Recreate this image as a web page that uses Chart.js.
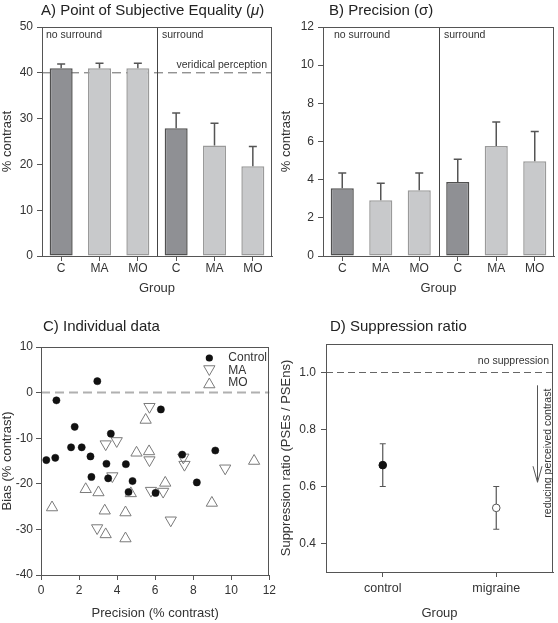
<!DOCTYPE html>
<html>
<head>
<meta charset="utf-8">
<script src="https://cdn.jsdelivr.net/npm/chart.js@4/dist/chart.umd.min.js"></script>
<style>
  body { margin: 0; background: #fff; }
  #wrap { position: relative; width: 558px; height: 623px; }
  canvas { position: absolute; }
</style>
</head>
<body>
<div id="wrap">
  <canvas id="panelA" style="left:0;top:0" width="279" height="300"></canvas>
  <canvas id="panelB" style="left:279px;top:0" width="279" height="300"></canvas>
  <canvas id="panelC" style="left:0;top:300px" width="279" height="323"></canvas>
  <canvas id="panelD" style="left:279px;top:300px" width="279" height="323"></canvas>
</div>
<script>
// group labels for the bar panels (no surround, then surround)
var groups = ['C', 'MA', 'MO', 'C', 'MA', 'MO'];

// A) point of subjective equality, mean and SE (% contrast)
var pseMean = [41.0, 41.0, 41.0, 27.9, 24.1, 19.6];
var pseErr = [0.9, 1.1, 1.1, 3.3, 4.9, 4.3];
var veridical = 40;

// B) precision, mean and SE (% contrast)
var sigmaMean = [3.55, 2.92, 3.44, 3.88, 5.77, 4.96];
var sigmaErr = [0.80, 0.89, 0.91, 1.19, 1.25, 1.56];

// C) individual data: precision (x) vs bias (y)
var controlX = [0.28, 0.75, 0.81, 2.96, 1.77, 1.58, 2.14, 2.60, 2.65, 3.67, 3.44, 3.53, 4.46, 4.60, 4.81, 6.02, 6.30, 7.42, 8.19, 9.16];
var controlY = [-14.8, -14.3, -1.7, 2.5, -7.5, -12.0, -12.0, -14.0, -18.5, -9.0, -15.6, -18.8, -15.7, -21.8, -19.4, -22.0, -3.7, -13.6, -19.7, -12.7];
var maX = [5.70, 3.40, 3.98, 5.70, 7.48, 7.54, 9.68, 3.75, 5.78, 6.42, 6.82, 2.95];
var maY = [-3.1, -11.3, -10.6, -14.8, -14.2, -15.8, -16.6, -18.3, -21.5, -21.7, -28.0, -29.7];
var moX = [5.50, 5.68, 5.02, 11.2, 2.35, 3.02, 4.72, 6.53, 0.58, 8.98, 3.35, 4.44, 3.40, 4.44];
var moY = [-6.0, -12.9, -13.2, -15.0, -21.2, -21.9, -22.1, -19.8, -25.2, -24.2, -25.9, -26.3, -31.1, -32.0];

// D) suppression ratio (PSEs / PSEns)
var ratioGroups = ['control', 'migraine'];
var ratioMean = [0.675, 0.525];
var ratioLow = [0.60, 0.45];
var ratioHigh = [0.75, 0.60];

var FONT = "'Liberation Sans', Arial, sans-serif";
var INK = '#333';
var AXIS = '#555';
Chart.defaults.font.family = FONT;
Chart.defaults.color = INK;
Chart.defaults.animation = false;

function pairs(xs, ys) {
    return xs.map(function(x, i) { return { x: x, y: ys[i] }; });
}

// full box round the plot area
function drawFrame(chart) {
    var a = chart.chartArea, c = chart.ctx;
    c.save();
    c.strokeStyle = AXIS;
    c.lineWidth = 1;
    c.strokeRect(Math.round(a.left) + 0.5, Math.round(a.top) + 0.5,
                 Math.round(a.right - a.left) - 1, Math.round(a.bottom - a.top));
    c.restore();
}

// panel heading, parts may be italic
function drawHeading(c, x, y, parts) {
    c.save();
    c.fillStyle = '#222';
    c.textBaseline = 'middle';
    c.textAlign = 'left';
    parts.forEach(function(p) {
        c.font = (p.italic ? 'italic ' : '') + '15px ' + FONT;
        c.fillText(p.text, x, y);
        x += c.measureText(p.text).width;
    });
    c.restore();
}

function note(c, text, x, y, align) {
    c.save();
    c.font = '10.5px ' + FONT;
    c.fillStyle = INK;
    c.textAlign = align || 'left';
    c.textBaseline = 'middle';
    c.fillText(text, x, y);
    c.restore();
}

function dashedH(c, area, y, color, width, dash) {
    c.save();
    c.strokeStyle = color;
    c.lineWidth = width;
    c.setLineDash(dash);
    c.beginPath();
    c.moveTo(area.left, y);
    c.lineTo(area.right, y);
    c.stroke();
    c.restore();
}

function xAxis(opts) {
    return Object.assign({
        grid: { display: true, drawOnChartArea: false, tickLength: 5, color: AXIS },
        border: { color: AXIS },
        ticks: { font: { size: 12 }, padding: opts.pad, color: INK, maxRotation: 0 },
        title: { display: true, text: opts.title, font: { size: 13 }, color: INK, padding: { top: 0, bottom: opts.titlePad } },
        afterFit: function(s) { s.height = opts.height; }
    }, opts.extra || {});
}

function yAxis(opts) {
    return Object.assign({
        min: opts.min, max: opts.max,
        grid: { display: true, drawOnChartArea: false, tickLength: 5, color: AXIS },
        border: { color: AXIS },
        ticks: { stepSize: opts.step, font: { size: 12 }, padding: opts.pad, color: INK },
        title: { display: true, text: opts.title, font: { size: 13 }, color: INK, padding: { top: 0, bottom: 0 } },
        afterFit: function(s) { s.width = opts.width; }
    }, opts.extra || {});
}

/**
 * Bar panel with upward error bars, a divider between
 * the "no surround" and "surround" halves.
 */
function barPanel(id, cfg) {
    var fills = groups.map(function(g) { return g === 'C' ? '#8f9094' : '#c8c9cb'; });
    var edges = groups.map(function(g) { return g === 'C' ? '#505050' : '#9a9a9a'; });

    var decor = {
        id: 'decor',
        beforeDatasetsDraw: function(chart) {
            if (cfg.refLine !== undefined) {
                var y = chart.scales.y.getPixelForValue(cfg.refLine);
                dashedH(chart.ctx, chart.chartArea, y, '#666', 1, [9, 5]);
                note(chart.ctx, cfg.refText, chart.chartArea.right - 5, y - 8, 'right');
            }
        },
        afterDatasetsDraw: function(chart) {
            var c = chart.ctx, a = chart.chartArea, ys = chart.scales.y;
            var bars = chart.getDatasetMeta(0).data;
            c.save();
            c.strokeStyle = '#555';
            c.lineWidth = 1.5;
            bars.forEach(function(bar, i) {
                var top = ys.getPixelForValue(cfg.mean[i] + cfg.err[i]);
                c.beginPath();
                c.moveTo(bar.x, bar.y);
                c.lineTo(bar.x, top);
                c.moveTo(bar.x - 4, top);
                c.lineTo(bar.x + 4, top);
                c.stroke();
            });
            c.restore();

            // divider between the two conditions
            var mid = Math.round((bars[2].x + bars[3].x) / 2) + 0.5;
            c.save();
            c.strokeStyle = '#444';
            c.lineWidth = 1;
            c.beginPath();
            c.moveTo(mid, a.top);
            c.lineTo(mid, a.bottom);
            c.stroke();
            c.restore();

            note(c, 'no surround', a.left + cfg.noteLeft, a.top + 8.5);
            note(c, 'surround', mid + 4.5, a.top + 8.5);
        },
        afterDraw: function(chart) {
            drawFrame(chart);
            drawHeading(chart.ctx, cfg.headX, 11, cfg.heading);
        }
    };

    return new Chart(document.getElementById(id), {
        type: 'bar',
        data: {
            labels: groups,
            datasets: [{
                data: cfg.mean,
                backgroundColor: fills,
                borderColor: edges,
                borderWidth: 1.5,
                borderSkipped: false,
                barPercentage: 0.6,
                categoryPercentage: 1
            }]
        },
        options: {
            responsive: false,
            devicePixelRatio: 1,
            layout: { padding: { left: 0, right: cfg.padRight, top: 27, bottom: 0 } },
            plugins: { legend: { display: false }, tooltip: { enabled: false } },
            scales: {
                x: xAxis({ title: 'Group', height: 44, pad: 0, titlePad: 4,
                           extra: { grid: { display: true, offset: false, drawOnChartArea: false, tickLength: 5, color: AXIS } } }),
                y: yAxis({ title: '% contrast', width: cfg.left, min: 0, max: cfg.max, step: cfg.step, pad: 4 })
            }
        },
        plugins: [decor]
    });
}

barPanel('panelA', {
    mean: pseMean, err: pseErr, max: 50, step: 10, left: 42, padRight: 7,
    refLine: veridical, refText: 'veridical perception', noteLeft: 4,
    headX: 41, heading: [{ text: 'A) Point of Subjective Equality (' }, { text: 'μ', italic: true }, { text: ')' }]
});

barPanel('panelB', {
    mean: sigmaMean, err: sigmaErr, max: 12, step: 2, left: 44, padRight: 4,
    noteLeft: 11,
    headX: 50, heading: [{ text: 'B) Precision (σ)' }]
});

// C) scatter of the individual data
function marker(c, style, x, y, r, rot) {
    c.beginPath();
    if (style === 'circle') {
        c.arc(x, y, r, 0, Math.PI * 2);
        c.fill();
        return;
    }
    var s = rot ? -1 : 1;
    c.moveTo(x, y - s * r);
    c.lineTo(x + r * 0.866, y + s * r / 2);
    c.lineTo(x - r * 0.866, y + s * r / 2);
    c.closePath();
    c.stroke();
}

var scatterDatasets = [
    { label: 'Control', data: pairs(controlX, controlY), pointStyle: 'circle', pointRadius: 3.6,
      backgroundColor: '#111', borderColor: '#111', borderWidth: 0.5 },
    { label: 'MA', data: pairs(maX, maY), pointStyle: 'triangle', pointRotation: 180, pointRadius: 6.5,
      backgroundColor: 'rgba(255,255,255,0)', borderColor: '#7a7a7a', borderWidth: 1 },
    { label: 'MO', data: pairs(moX, moY), pointStyle: 'triangle', pointRadius: 6.5,
      backgroundColor: 'rgba(255,255,255,0)', borderColor: '#7a7a7a', borderWidth: 1 }
];

new Chart(document.getElementById('panelC'), {
    type: 'scatter',
    data: { datasets: scatterDatasets },
    options: {
        responsive: false,
        devicePixelRatio: 1,
        layout: { padding: { left: 0, right: 9, top: 47, bottom: 0 } },
        plugins: { legend: { display: false }, tooltip: { enabled: false } },
        scales: {
            x: xAxis({ title: 'Precision (% contrast)', height: 48, pad: 3, titlePad: 2,
                       extra: { type: 'linear', min: 0, max: 12, ticks: { stepSize: 2, font: { size: 12 }, padding: 3, color: INK } } }),
            y: yAxis({ title: 'Bias (% contrast)', width: 41, min: -40, max: 10, step: 10, pad: 3 })
        }
    },
    plugins: [{
        id: 'decorC',
        beforeDatasetsDraw: function(chart) {
            var y = chart.scales.y.getPixelForValue(0);
            dashedH(chart.ctx, chart.chartArea, y, '#b0b0b0', 2, [9, 5]);
        },
        afterDraw: function(chart) {
            var c = chart.ctx, a = chart.chartArea;
            drawFrame(chart);
            drawHeading(c, 43, 27, [{ text: 'C) Individual data' }]);
            // legend inside the plot, top right
            var rows = [11, 23.5, 36];
            scatterDatasets.forEach(function(d, i) {
                var y = a.top + rows[i];
                c.save();
                c.fillStyle = d.backgroundColor;
                c.strokeStyle = d.borderColor;
                c.lineWidth = 1;
                marker(c, d.pointStyle, a.right - 60, y + (d.pointStyle === 'circle' ? 0 : (d.pointRotation ? -1.5 : 1.5)),
                       d.pointStyle === 'circle' ? 3.6 : 6.5, d.pointRotation);
                c.restore();
                c.save();
                c.font = '12px ' + FONT;
                c.fillStyle = INK;
                c.textBaseline = 'middle';
                c.fillText(d.label, a.right - 41, y);
                c.restore();
            });
        }
    }]
});

// D) suppression ratio
new Chart(document.getElementById('panelD'), {
    type: 'scatter',
    data: {
        datasets: [{
            data: ratioMean.map(function(v, i) { return { x: i + 0.5, y: v }; }),
            pointRadius: 3.8,
            pointBackgroundColor: ['#111', '#fff'],
            pointBorderColor: ['#111', '#555'],
            pointBorderWidth: 1
        }]
    },
    options: {
        responsive: false,
        devicePixelRatio: 1,
        layout: { padding: { left: 0, right: 4, top: 44, bottom: 0 } },
        plugins: { legend: { display: false }, tooltip: { enabled: false } },
        scales: {
            x: xAxis({ title: 'Group', height: 51, pad: 4, titlePad: 2,
                       extra: {
                           type: 'linear', min: 0, max: 2,
                           afterBuildTicks: function(s) { s.ticks = ratioGroups.map(function(g, i) { return { value: i + 0.5 }; }); },
                           ticks: { font: { size: 12.5 }, padding: 4, color: INK,
                                    callback: function(v, i) { return ratioGroups[i]; } }
                       } }),
            y: yAxis({ title: 'Suppression ratio (PSEs / PSEns)', width: 47, min: 0.3, max: 1.1, pad: 5,
                       extra: {
                           afterBuildTicks: function(s) { s.ticks = [0.4, 0.6, 0.8, 1.0].map(function(v) { return { value: v }; }); },
                           ticks: { font: { size: 12 }, padding: 5, color: INK,
                                    callback: function(v) { return v.toFixed(1); } }
                       } })
        }
    },
    plugins: [{
        id: 'decorD',
        beforeDatasetsDraw: function(chart) {
            var c = chart.ctx, a = chart.chartArea, xs = chart.scales.x, ys = chart.scales.y;
            var y1 = ys.getPixelForValue(1.0);
            dashedH(c, a, y1, '#666', 1, [7, 4]);
            note(c, 'no suppression', a.right - 4, y1 - 11, 'right');

            // error bars
            c.save();
            c.strokeStyle = '#555';
            c.lineWidth = 1.2;
            ratioMean.forEach(function(v, i) {
                var x = xs.getPixelForValue(i + 0.5);
                var lo = ys.getPixelForValue(ratioLow[i]), hi = ys.getPixelForValue(ratioHigh[i]);
                c.beginPath();
                c.moveTo(x, lo); c.lineTo(x, hi);
                c.moveTo(x - 3, lo); c.lineTo(x + 3, lo);
                c.moveTo(x - 3, hi); c.lineTo(x + 3, hi);
                c.stroke();
            });
            c.restore();
        },
        afterDraw: function(chart) {
            var c = chart.ctx, a = chart.chartArea, xs = chart.scales.x, ys = chart.scales.y;
            drawFrame(chart);
            drawHeading(c, 51, 27, [{ text: 'D) Suppression ratio' }]);

            // arrow: reducing perceived contrast
            var ax = Math.round(xs.getPixelForValue(1.855)) + 0.5;
            var top = ys.getPixelForValue(0.955), tip = ys.getPixelForValue(0.615);
            c.save();
            c.strokeStyle = '#555';
            c.lineWidth = 1;
            c.beginPath();
            c.moveTo(ax, top); c.lineTo(ax, tip);
            c.moveTo(ax - 4.5, tip - 16); c.lineTo(ax, tip); c.lineTo(ax + 4.5, tip - 16);
            c.stroke();
            c.restore();

            c.save();
            c.translate(a.right - 5, (top + ys.getPixelForValue(0.5)) / 2 + 3);
            c.rotate(-Math.PI / 2);
            note(c, 'reducing perceived contrast', 0, 0, 'center');
            c.restore();
        }
    }]
});
</script>
</body>
</html>
